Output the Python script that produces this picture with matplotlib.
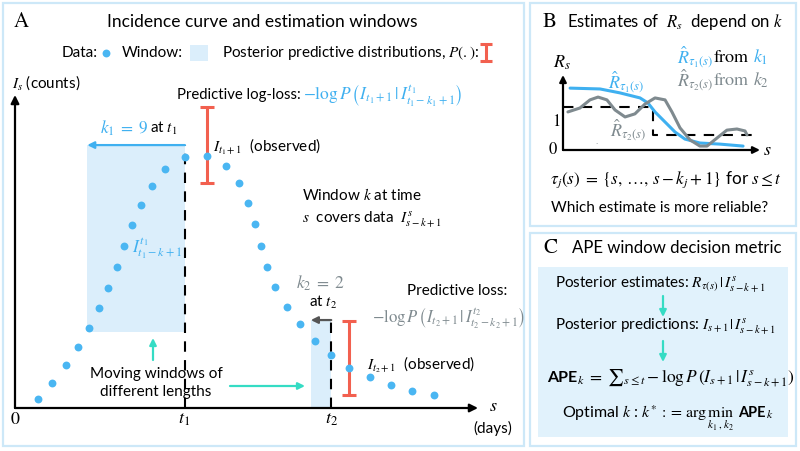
import matplotlib
matplotlib.use("Agg")
import matplotlib.pyplot as plt
from matplotlib.patches import Rectangle

plt.rcParams['font.family'] = ['Lato', 'DejaVu Sans']
plt.rcParams['mathtext.fontset'] = 'stix'

# Panel A: schematic incidence curve (arbitrary units)
s_days = [5.0, 8.0, 11.0, 13.6, 16.0, 18.1, 20.1, 22.0, 23.5, 25.3, 27.2, 29.6, 32.4, 36.7,
          41.5, 45.6, 48.4, 50.3, 51.8, 53.1, 54.4, 56.2, 58.7, 61.6, 64.8, 68.3,
          72.1, 76.7, 81.2, 85.7, 90.5]
I_counts = [2.9, 8.0, 13.7, 19.5, 25.6, 31.9, 38.3, 45.0, 51.8, 58.5, 64.9, 70.9, 76.4, 80.2,
            80.5, 77.3, 71.9, 65.5, 58.8, 51.8, 45.0, 38.7, 32.3, 26.8, 21.4, 16.9,
            12.8, 9.9, 7.3, 5.4, 4.2]
t_idx = [13, 25]                 # index of t1, t2
win_left = [15.6, 63.9]
win_bottom = [24.3, 0.0]
win_top = [84.0, 28.1]
pred_lo = [71.9, 4.2]
pred_hi = [96.2, 27.8]

# Panel B: R estimates
rb_x = [0.36, 1.88, 2.89, 3.91, 4.31, 4.67, 5.18, 5.69, 6.19, 6.95, 7.97, 9.14]
rb_k1 = [2.21, 2.18, 2.04, 1.86, 1.68, 1.36, 1.0, 0.64, 0.39, 0.25, 0.21, 0.14]
rg_x = [0.25, 0.86, 1.37, 1.78, 2.23, 2.64, 3.15, 3.65, 4.16, 4.67, 5.18, 5.53, 5.94,
        6.45, 6.95, 7.31, 7.82, 8.32, 8.83, 9.24, 9.34]
rg_k2 = [1.36, 1.5, 1.79, 1.89, 1.79, 1.43, 1.18, 1.29, 1.64, 1.86, 1.79, 1.36, 0.79,
         0.36, 0.14, 0.14, 0.43, 0.71, 0.75, 0.68, 0.54]
r_true_x = [0.0, 4.57, 4.57, 9.6]
r_true = [1.54, 1.54, 0.54, 0.54]

BLUE = '#3fb0f0'
DOT = '#4ab6f2'
GRAY = '#7f8a8f'
DGRAY = '#555555'
RED = '#f2604f'
CYAN = '#35dcc4'
FRAME = '#cde8f8'
FILL = '#dbeefb'

fig = plt.figure(figsize=(8, 4.51), dpi=100)

def px_axes(l, t, r, b):
    return fig.add_axes([l / 800, 1 - b / 451, (r - l) / 800, (b - t) / 451])

# ---- panel A data axes
axA = px_axes(15, 95, 478, 408)
axA.set_xlim(0, 100)
axA.set_ylim(0, 100)
axA.axis('off')
axA.patch.set_alpha(0)
arr = dict(arrowstyle='-|>', color='black', lw=1.6, mutation_scale=12, shrinkA=0, shrinkB=0)
axA.annotate('', xy=(0, 100), xytext=(0, 0), arrowprops=arr, annotation_clip=False)
axA.annotate('', xy=(100, 0), xytext=(0, 0), arrowprops=arr, annotation_clip=False)

for j, i in enumerate(t_idx):
    t = s_days[i]
    axA.add_patch(Rectangle((win_left[j], win_bottom[j]), t - win_left[j],
                            win_top[j] - win_bottom[j], color=FILL, lw=0, zorder=1))
    axA.plot([t, t], [0, win_top[j]], color='black', lw=1.5, ls=(0, (5, 4)), zorder=2)
    col = BLUE if j == 0 else DGRAY
    axA.annotate('', xy=(win_left[j], win_top[j]), xytext=(t, win_top[j]),
                 arrowprops=dict(arrowstyle='-|>', color=col, lw=1.6, mutation_scale=10,
                                 shrinkA=0, shrinkB=0))
    xp = s_days[i + 1]
    axA.errorbar([xp], [(pred_lo[j] + pred_hi[j]) / 2], yerr=[(pred_hi[j] - pred_lo[j]) / 2],
                 fmt='none', ecolor=RED, elinewidth=2.2, capsize=5, capthick=2.2, zorder=3)
axA.scatter(s_days, I_counts, s=32, color=DOT, lw=0, zorder=4)

# ---- panel B axes
axB = px_axes(563, 75, 760, 150)
axB.set_xlim(0, 10)
axB.set_ylim(0, 75 / 28)
axB.axis('off')
axB.patch.set_alpha(0)
arrB = dict(arrowstyle='-|>', color='black', lw=1.6, mutation_scale=10, shrinkA=0, shrinkB=0)
axB.annotate('', xy=(0, 75 / 28), xytext=(0, 0), arrowprops=arrB, annotation_clip=False)
axB.annotate('', xy=(10, 0), xytext=(0, 0), arrowprops=arrB, annotation_clip=False)
axB.plot(r_true_x, r_true, color='black', lw=1.5, ls=(0, (5, 4)))
axB.plot(rb_x, rb_k1, color=BLUE, lw=2.2, solid_capstyle='round')
axB.plot(rg_x, rg_k2, color=GRAY, lw=2.2, solid_capstyle='round')

# ---- overlay for frames and text (pixel coordinates)
ov = fig.add_axes([0, 0, 1, 1], zorder=5)
ov.set_xlim(0, 800)
ov.set_ylim(451, 0)
ov.axis('off')
ov.patch.set_alpha(0)

for (x0, y0, x1, y1) in [(3, 3, 524, 446), (530, 3, 796, 226), (530, 233, 796, 446)]:
    ov.add_patch(Rectangle((x0, y0), x1 - x0, y1 - y0, fill=False, ec=FRAME, lw=1.6))
ov.add_patch(Rectangle((538, 267), 250, 170, color='#e1f2fc', lw=0, zorder=0))

def T(x, y, s, **kw):
    kw.setdefault('va', 'center')
    kw.setdefault('fontsize', 11)
    return ov.text(x, y, s, **kw)

SERIF = 'STIXGeneral'

# panel A text
T(14, 22, 'A', family=SERIF, fontsize=15)
T(262, 22, 'Incidence curve and estimation windows', ha='center', fontsize=12.5)
T(62, 53, 'Data:', fontsize=11)
ov.scatter([106], [53], s=32, color=DOT, lw=0)
T(122, 53, 'Window:', fontsize=11)
ov.add_patch(Rectangle((190, 45), 18, 16, color=FILL, lw=0))
T(222, 53, 'Posterior predictive distributions, $P(.)$:', fontsize=11)
ov.errorbar([485.5], [52.5], yerr=[8.5], fmt='none', ecolor=RED, elinewidth=2.2,
            capsize=4, capthick=2.2)
T(12, 83, '$I_s$ (counts)', fontsize=11)
T(177, 95, 'Predictive log-loss:', fontsize=10.7)
T(303, 95, r'$-\log P\,\left(I_{t_1+1}\,|\,I^{t_1}_{t_1-k_1+1}\right)$', color=BLUE, fontsize=12.5)
T(100, 128, r'$k_1 \;=\; 9$', color=BLUE, fontsize=12.5)
T(150, 128, r'at $t_1$', fontsize=11)
T(213, 147, r'$I_{t_1+1}$  (observed)', fontsize=11)
T(302, 195, r'Window $k$ at time', fontsize=11)
T(302, 220, r'$s$  covers data  $I^{s}_{s-k+1}$', fontsize=11)
T(157, 248, r'$I^{t_1}_{t_1-k+1}$', color=BLUE, ha='center', fontsize=12.5)
T(320, 283, r'$k_2 \;=\; 2$', color=GRAY, ha='center', fontsize=12.5)
T(323, 302, r'at $t_2$', ha='center', fontsize=11)
T(407, 291, 'Predictive loss:', fontsize=11)
T(372, 318, r'$-\log P\,\left(I_{t_2+1}\,|\,I^{t_2}_{t_2-k_2+1}\right)$', color=GRAY, fontsize=12)
T(367, 365, r'$I_{t_2+1}$  (observed)', fontsize=11)
T(156, 383, 'Moving windows of\ndifferent lengths', ha='center', fontsize=11, linespacing=1.3)
carr = dict(arrowstyle='-|>', color=CYAN, lw=1.6, mutation_scale=10, shrinkA=0, shrinkB=0)
ov.annotate('', xy=(153, 338), xytext=(153, 360), arrowprops=carr)
ov.annotate('', xy=(305, 386), xytext=(230, 386), arrowprops=carr)
T(15, 420, '0', family=SERIF, ha='center', fontsize=13)
T(184, 420, '$t_1$', ha='center', fontsize=13)
T(332, 420, '$t_2$', ha='center', fontsize=13)
T(493, 406, '$s$', ha='center', fontsize=13)
T(493, 428, '(days)', ha='center', fontsize=11)

# panel B text
T(543, 22, 'B', family=SERIF, fontsize=15)
T(567, 22, r'Estimates of  $R_s$  depend on $k$', fontsize=12.1)
T(562, 63, '$R_s$', ha='center', fontsize=13)
T(553, 150, '0', family=SERIF, ha='center', fontsize=12)
T(556, 122, '1', family=SERIF, ha='center', fontsize=12)
T(767, 150, '$s$', ha='center', fontsize=13)
T(626, 82, r'$\hat{R}_{\tau_1(s)}$', color=BLUE, ha='center', fontsize=13)
T(628, 130, r'$\hat{R}_{\tau_2(s)}$', color=GRAY, ha='center', fontsize=13)
T(597, 141, '.', color=GRAY, ha='center', fontsize=7)
T(677, 57, r'$\hat{R}_{\tau_1(s)}$', color=BLUE, fontsize=13)
T(713, 57, r'$\mathrm{from}$', fontsize=13)
T(753, 57, r'$k_1$', color=BLUE, fontsize=13)
T(677, 80, r'$\hat{R}_{\tau_2(s)}$', color=GRAY, fontsize=13)
T(713, 80, r'$\mathrm{from}$', color=GRAY, fontsize=13)
T(753, 80, r'$k_2$', color=GRAY, fontsize=13)
T(550, 180, r'$\tau_j(s) \;=\; \{s,\,\ldots,\,s-k_j+1\}$ for $s\leq t$', fontsize=12.3)
T(660, 208, 'Which estimate is more reliable?', ha='center', fontsize=11)

# panel C text
T(543, 248, 'C', family=SERIF, fontsize=15)
T(572, 248, 'APE window decision metric', fontsize=12.1)
T(660, 285, r'Posterior estimates: $R_{\tau(s)}\,|\,I^{s}_{s-k+1}$', ha='center', fontsize=11)
ov.annotate('', xy=(663, 317), xytext=(663, 296), arrowprops=carr)
T(665, 327, r'Posterior predictions: $I_{s+1}\,|\,I^{s}_{s-k+1}$', ha='center', fontsize=11)
ov.annotate('', xy=(663, 362), xytext=(663, 341), arrowprops=carr)
T(577, 382, 'APE', ha='right', va='baseline', fontweight='bold', fontsize=11.5)
T(577, 382, r'${}_k \;=\; {\sum}_{s\leq t} -\log P\,\left(I_{s+1}\,|\,I^{s}_{s-k+1}\right)$',
  va='baseline', fontsize=12.5)
T(735, 417, r'Optimal $k$ : $k^{*} \,:=\, \arg\min_{k_1,k_2}$', ha='right', va='baseline',
  fontsize=11.5)
T(738, 417, 'APE', va='baseline', fontweight='bold', fontsize=10.5)
T(766, 417, r'${}_k$', va='baseline', fontsize=12)

fig.savefig('out.png', dpi=100)
